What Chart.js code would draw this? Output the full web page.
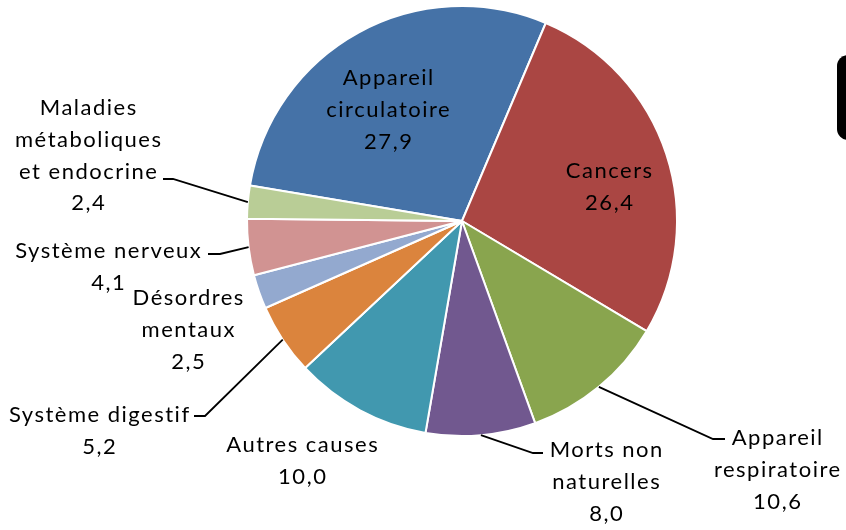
<!DOCTYPE html>
<html>
<head>
<meta charset="utf-8">
<script src="https://cdn.jsdelivr.net/npm/chart.js@4.4.0/dist/chart.umd.min.js"></script>
<style>
html,body{margin:0;padding:0;background:#fff;}
#wrap{width:846px;height:530px;position:relative;}
</style>
</head>
<body>
<div id="wrap"><canvas id="c" width="846" height="530"></canvas></div>
<script>
// ---- data ----
const categories = [
  "Appareil circulatoire", "Cancers", "Appareil respiratoire", "Morts non naturelles",
  "Autres causes", "Système digestif", "Désordres mentaux", "Système nerveux",
  "Maladies métaboliques et endocrine"
];
const values = [27.9, 26.4, 10.6, 8.0, 10.0, 5.2, 2.5, 4.1, 2.4];
const labelLines = [
  ["Appareil", "circulatoire"],
  ["Cancers"],
  ["Appareil", "respiratoire"],
  ["Morts non", "naturelles"],
  ["Autres causes"],
  ["Système digestif"],
  ["Désordres", "mentaux"],
  ["Système nerveux"],
  ["Maladies", "métaboliques", "et endocrine"]
];
const colors = ["#4572A7", "#AA4643", "#89A54E", "#71588F", "#4198AF", "#DB843D", "#93A9CF", "#D19392", "#B9CD96"];

// ---- label layout (text centre x, first baseline y) ----
const labelPos = [[388, 85], [609, 178], [777, 445], [606, 457], [302, 452], [99, 422], [188, 305], [108, 258], [88, 115]];
// leader lines: [elbow, end] or null
const leaders = [null, null, [[713, 439], [725, 439]], [[533, 453], [543, 453]], null,
  [[205, 416], [194, 416]], null, [[220, 254], [208, 254]], [[173, 179], [163, 179]]];

const fmt = v => v.toFixed(1).replace('.', ',');

const labelPlugin = {
  id: 'pieLabels',
  afterDatasetsDraw(chart) {
    const ctx = chart.ctx;
    const meta = chart.getDatasetMeta(0);
    ctx.save();
    // leader lines
    ctx.strokeStyle = '#000';
    ctx.lineWidth = 1.8;
    meta.data.forEach((arc, i) => {
      const L = leaders[i];
      if (!L) return;
      const mid = (arc.startAngle + arc.endAngle) / 2;
      const sx = arc.x + Math.cos(mid) * arc.outerRadius;
      const sy = arc.y + Math.sin(mid) * arc.outerRadius;
      ctx.beginPath();
      ctx.moveTo(sx, sy);
      ctx.lineTo(L[0][0], L[0][1]);
      ctx.lineTo(L[1][0], L[1][1]);
      ctx.stroke();
    });
    // text
    ctx.fillStyle = '#000';
    ctx.font = '22px Lato';
    ctx.letterSpacing = '1.5px';
    ctx.textAlign = 'center';
    ctx.textBaseline = 'alphabetic';
    const lh = 31.8;
    meta.data.forEach((arc, i) => {
      const lines = labelLines[i].concat([fmt(values[i])]);
      const [x, y] = labelPos[i];
      lines.forEach((t, k) => ctx.fillText(t, x + 0.75, y + k * lh));
    });
    // decorative dark box at right edge
    ctx.fillStyle = '#000';
    ctx.beginPath();
    if (ctx.roundRect) ctx.roundRect(837, 55, 40, 85, 11); else ctx.rect(837, 55, 40, 85);
    ctx.fill();
    ctx.restore();
  }
};

new Chart(document.getElementById('c'), {
  type: 'pie',
  data: {
    labels: categories,
    datasets: [{
      data: values,
      backgroundColor: colors,
      borderColor: '#ffffff',
      borderWidth: 2
    }]
  },
  options: {
    responsive: false,
    animation: false,
    rotation: -80.5,
    layout: { padding: { left: 246, right: 168, top: 5, bottom: 93 } },
    plugins: { legend: { display: false }, tooltip: { enabled: false } }
  },
  plugins: [labelPlugin]
});
</script>
</body>
</html>
